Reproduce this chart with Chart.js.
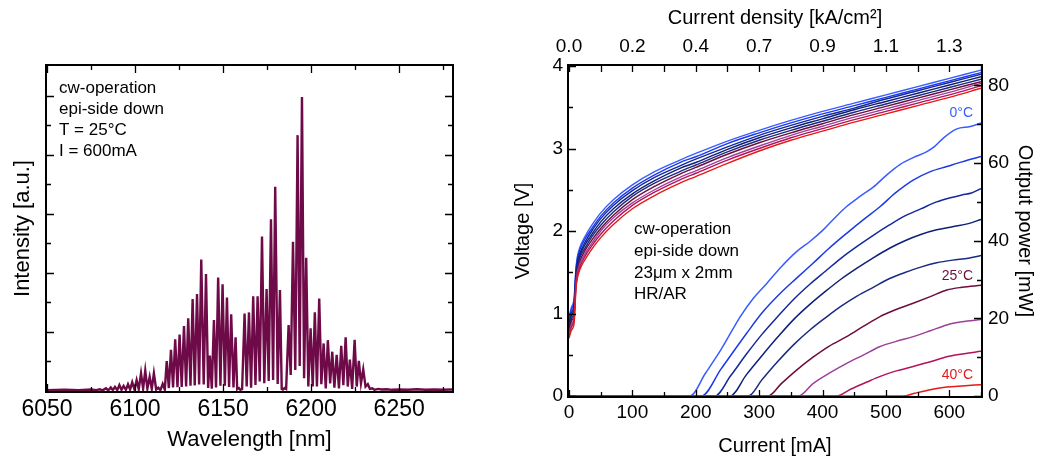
<!DOCTYPE html>
<html><head><meta charset="utf-8">
<script src="https://cdn.jsdelivr.net/npm/chart.js@4.4.1/dist/chart.umd.min.js"></script>
<style>
html,body{margin:0;padding:0;background:#fff;width:1037px;height:459px;overflow:hidden}
#c1{position:absolute;left:0;top:0}
#c2{position:absolute;left:490px;top:0}
</style></head><body>
<canvas id="c1" width="480" height="459"></canvas>
<canvas id="c2" width="547" height="459"></canvas>
<script>
// ================= DATA =================
// Left: emission spectrum (wavelength nm / intensity a.u.), peaks and valleys
const specWavelength = [6050,6060,6068,6075,6078,6080,6081.5,
 6083.5,6084.8,6086.2,6087.4,6088.6,6089.9,6091.1,6092.3,6093.5,6094.8,6096.0,6097.2,6098.4,6099.7,
 6100.9,6102.1,6103.4,6104.6,6105.8,6107.0,6108.3,6109.5,6110.7,6112.0,6113.2,6114.4,6115.7,6116.9,
 6118.0,6119.2,6120.4,6121.6,6122.8,6124.1,6125.3,6126.5,6127.8,6129.0,6130.2,6131.5,6132.7,6133.9,
 6135.2,6136.4,6137.6,6139.0,6140.3,6141.5,6142.5,6143.6,6144.8,6146.0,6147.2,6148.5,6149.7,6151.0,
 6152.2,6153.4,6154.6,6155.9,6157.1,6158.0,6159.0,6159.8,6160.8,
 6162.2,6163.4,6164.7,6165.9,6167.1,6168.4,6169.6,6170.8,6172.1,6173.4,6174.7,6175.9,6177.2,6178.4,
 6179.6,6181.0,6182.3,6183.3,6184.0,6185.0,6185.8,
 6187.2,6188.4,6189.7,6191.0,6192.3,6193.5,6194.8,6196.0,6197.2,6198.4,6199.7,6200.9,6202.1,6203.3,
 6204.6,6205.8,6207.1,6208.3,6209.5,6210.8,6212.0,6213.2,6214.5,6215.8,6217.1,6218.3,6219.6,6220.8,
 6222.0,6223.3,6224.7,6225.9,6227.1,6228.3,6229.6,6230.9,6232.2,6233.4,6234.7,
 6236,6238,6240,6243,6246,6250,6255,6260,6265,6270,6275,6280];
const specIntensity = [0.03,0.04,0.03,0.05,0.03,0.06,0.02,
 0.09,0.02,0.12,0.03,0.14,0.03,0.20,0.04,0.17,0.04,0.23,0.05,0.30,0.05,
 0.37,0.06,0.60,0.08,0.69,0.08,0.48,0.07,0.60,0.05,0.11,0.03,0.24,0.05,
 1.01,0.10,1.39,0.12,1.75,0.13,1.91,0.14,2.20,0.15,2.46,0.18,3.11,0.19,
 3.28,0.22,4.45,0.22,3.96,0.10,1.20,0.08,2.40,0.12,3.84,0.18,3.61,0.18,
 3.16,0.14,2.60,0.12,1.82,0.06,0.10,0.04,0.06,
 2.62,0.15,2.66,0.11,3.21,0.20,3.21,0.32,5.23,0.26,3.45,0.34,5.81,0.37,
 6.91,0.24,3.42,0.07,0.05,0.10,0.07,
 2.23,0.54,5.05,0.71,8.66,0.85,9.95,0.43,4.51,0.15,2.12,0.15,2.66,0.15,
 3.13,0.23,1.61,0.09,1.72,0.26,1.33,0.11,1.22,0.09,1.53,0.20,1.82,0.15,
 1.06,0.07,1.73,0.15,1.02,0.26,0.73,0.15,0.23,0.07,0.09,
 0.04,0.07,0.05,0.06,0.04,0.05,0.04,0.06,0.04,0.05,0.04,0.05];
const specXTicks = [6050,6100,6150,6200,6250];
const specXMinor = [6075,6125,6175,6225,6275];
const specYMajor = [2,4,6,8,10];
const specYMinor = [1,3,5,7,9];
const specNotes = ['cw-operation','epi-side down','T = 25°C','I = 600mA'];

// Right: voltage (V) and output power (mW) versus current (mA) for several temperatures
const temps = ['0°C','5°C','10°C','15°C','20°C','25°C','30°C','35°C','40°C'];
const tempColors = ['#3a5cff','#1a3ae6','#13289c','#0f1f78','#1a2a80','#6c0d3c','#9c3f98','#b2145a','#e41a1a'];
const vCurrent = [0,4,8,11,13,17,25,36,50,70,100,135,175,200,250,300,350,400,450,500,550,600,650];
const v0  = [0.96,1.08,1.18,1.55,1.68,1.80,1.93,2.07,2.22,2.38,2.56,2.72,2.86,2.94,3.09,3.22,3.34,3.45,3.55,3.65,3.75,3.85,3.95];
const v5  = [0.93,1.05,1.14,1.52,1.65,1.77,1.90,2.03,2.18,2.34,2.52,2.68,2.83,2.90,3.06,3.19,3.31,3.42,3.52,3.62,3.72,3.82,3.92];
const v10 = [0.90,1.01,1.11,1.49,1.62,1.73,1.86,2.00,2.15,2.31,2.49,2.65,2.79,2.87,3.02,3.16,3.28,3.39,3.49,3.60,3.70,3.80,3.90];
const v15 = [0.86,0.98,1.07,1.46,1.58,1.70,1.83,1.96,2.11,2.27,2.45,2.61,2.76,2.83,2.99,3.13,3.25,3.36,3.47,3.57,3.67,3.77,3.87];
const v20 = [0.83,0.94,1.03,1.43,1.55,1.67,1.79,1.93,2.07,2.23,2.42,2.58,2.72,2.80,2.96,3.10,3.22,3.33,3.44,3.54,3.64,3.74,3.84];
const v25 = [0.80,0.91,0.99,1.39,1.52,1.63,1.76,1.89,2.03,2.19,2.38,2.54,2.69,2.77,2.93,3.07,3.19,3.30,3.41,3.51,3.61,3.71,3.81];
const v30 = [0.77,0.87,0.96,1.36,1.49,1.60,1.72,1.85,2.00,2.16,2.34,2.50,2.65,2.73,2.89,3.03,3.16,3.27,3.38,3.48,3.58,3.68,3.79];
const v35 = [0.73,0.84,0.92,1.33,1.45,1.56,1.69,1.82,1.96,2.12,2.31,2.47,2.62,2.70,2.86,3.00,3.13,3.24,3.35,3.45,3.55,3.65,3.76];
const v40 = [0.70,0.80,0.88,1.30,1.42,1.53,1.65,1.78,1.92,2.08,2.27,2.43,2.58,2.66,2.82,2.97,3.10,3.21,3.32,3.42,3.52,3.62,3.73];
const li0  = [[0,0],[191,0],[215,5.8],[240,12],[270,20.4],[290,25],[312,29.0],[335,33.3],[359,37.2],[380,39.8],[401,42.8],[420,46.0],[438,48.8],[459,51.4],[480,53.8],[501,56.9],[522,59.6],[543,61.4],[564,62.9],[577,64.3],[591,66.5],[612,68.8],[633,69.4],[650,70.3]];
const li5  = [[0,0],[209,0],[240,7],[280,16.1],[305,21.5],[333,26.4],[360,30.5],[385,34.2],[410,38],[438,41.9],[465,45.5],[491,48.8],[515,52.3],[543,55.6],[570,57.8],[596,59.1],[620,60.3],[650,61.7]];
const li10 = [[0,0],[230,0],[255,5.2],[280,10.8],[305,16],[330,20.6],[355,25],[380,28.8],[405,32.2],[430,35.6],[455,38.6],[480,41.4],[505,44],[530,46.4],[555,48.2],[580,50],[600,51],[620,51.8],[635,52.3],[650,53.4]];
const li15 = [[0,0],[254,0],[280,5.5],[305,10.5],[330,15.3],[355,19.8],[380,23.6],[405,27],[430,30.2],[455,33],[480,35.6],[505,38],[530,40],[555,41.6],[580,42.8],[605,43.6],[630,44.4],[650,45.5]];
const li20 = [[0,0],[283,0],[305,4.3],[330,9],[355,13.3],[380,17],[405,20.2],[430,23.2],[455,25.8],[480,28],[505,30.2],[530,31.8],[555,33.2],[580,34.3],[605,35],[630,35.5],[650,36.2]];
const li25 = [[0,0],[314,0],[335,3.2],[360,6.8],[385,10],[410,12.8],[438,15.3],[465,18],[490,20.4],[515,22.2],[543,23.9],[570,25.6],[596,27.3],[620,28],[650,28.5]];
const li30 = [[0,0],[362,0],[385,3.2],[410,5.8],[438,8.4],[465,10.6],[490,12.7],[515,14],[543,15.3],[570,16.8],[596,18.3],[620,19.1],[650,19.7]];
const li35 = [[0,0],[422,0],[445,1.8],[470,3.6],[490,5.0],[515,6.4],[543,7.6],[570,8.8],[596,10.1],[620,10.8],[650,11.5]];
const li40 = [[0,0],[527,0],[545,0.7],[570,1.6],[596,2.3],[620,2.6],[650,2.9]];
const curXTicks = [0,100,200,300,400,500,600];
const curXMinor = [50,150,250,350,450,550,650];
const densityLabels = ['0.0','0.2','0.4','0.7','0.9','1.1','1.3'];
const voltTicks = [0,1,2,3,4];
const voltMinor = [0.5,1.5,2.5,3.5];
const powerTicks = [0,20,40,60,80];
const powerMinor = [10,30,50,70];
const liNotes = ['cw-operation','epi-side down','23μm x 2mm','HR/AR'];
const labelTemps = [0, 5, 8]; // indices of temperatures that are labelled

// ================= DRAWING =================
const FONT = "'Liberation Sans', Arial, Helvetica, sans-serif";
Chart.defaults.font.family = FONT;
Chart.defaults.color = '#000';

const framePlugin = {
  id: 'frame',
  afterDatasetsDraw(chart, args, o) {
    const {ctx, chartArea: a} = chart;
    ctx.save();
    ctx.strokeStyle = '#000';
    ctx.lineWidth = 2;
    ctx.strokeRect(a.left - 1, a.top - 1, a.right - a.left + 2, a.bottom - a.top + 2);
    ctx.lineWidth = 1.3;
    ctx.beginPath();
    for (const t of o.ticks) {
      const s = chart.scales[t.scale];
      for (const v of t.values) {
        const p = Math.round(s.getPixelForValue(v)) + 0.5;
        for (const side of t.sides) {
          if (side === 'bottom') { ctx.moveTo(p, a.bottom); ctx.lineTo(p, a.bottom - t.len); }
          if (side === 'top') { ctx.moveTo(p, a.top); ctx.lineTo(p, a.top + t.len); }
          if (side === 'left') { ctx.moveTo(a.left, p); ctx.lineTo(a.left + t.len, p); }
          if (side === 'right') { ctx.moveTo(a.right, p); ctx.lineTo(a.right - t.len, p); }
        }
      }
    }
    ctx.stroke();
    for (const n of (o.notes || [])) {
      ctx.font = n.font;
      ctx.fillStyle = n.color || '#000';
      ctx.textAlign = n.align || 'left';
      ctx.textBaseline = 'alphabetic';
      n.lines.forEach((l, i) => ctx.fillText(l, n.x, n.y + i * (n.dy || 0)));
    }
    ctx.restore();
  }
};

// ---------- Left chart ----------
new Chart(document.getElementById('c1'), {
  type: 'line',
  data: { datasets: [{
    data: specWavelength.map((w, i) => ({x: w, y: specIntensity[i]})),
    borderColor: '#6e0a48', borderWidth: 2.4, pointRadius: 0, tension: 0, fill: false
  }]},
  options: {
    responsive: false, animation: false, events: [],
    layout: { padding: { left: 0, right: 28, top: 66, bottom: 0 } },
    plugins: {
      legend: { display: false }, tooltip: { enabled: false },
      frame: {
        ticks: [
          { scale: 'x', values: specXTicks, sides: ['bottom', 'top'], len: 7 },
          { scale: 'x', values: specXMinor, sides: ['bottom', 'top'], len: 4 },
          { scale: 'y', values: specYMajor, sides: ['left', 'right'], len: 7 },
          { scale: 'y', values: specYMinor, sides: ['left', 'right'], len: 4 }
        ],
        notes: [{ lines: specNotes, x: 59, y: 93, dy: 21, font: '17px ' + FONT }]
      }
    },
    scales: {
      x: {
        type: 'linear', min: 6050, max: 6280,
        afterBuildTicks: s => { s.ticks = specXTicks.map(v => ({ value: v })); },
        afterFit: s => { s.height = 68; },
        grid: { display: false, drawTicks: false }, border: { display: false },
        ticks: { font: { size: 23 }, padding: 5, autoSkip: false, maxRotation: 0, callback: v => String(v) },
        title: { display: true, text: 'Wavelength [nm]', font: { size: 22 }, padding: { top: 0, bottom: 6 } }
      },
      y: {
        type: 'linear', min: 0, max: 11,
        afterFit: s => { s.width = 47; },
        grid: { display: false, drawTicks: false }, border: { display: false },
        ticks: { display: false },
        title: { display: true, text: 'Intensity [a.u.]', font: { size: 22 }, padding: { top: 10, bottom: 0 } }
      }
    }
  },
  plugins: [framePlugin]
});

// ---------- Right chart ----------
const vSeries = [v0, v5, v10, v15, v20, v25, v30, v35, v40];
const liSeries = [li0, li5, li10, li15, li20, li25, li30, li35, li40];
const datasets = [];
temps.forEach((t, k) => {
  datasets.push({
    label: 'V ' + t, yAxisID: 'y', order: 20 - k,
    data: vCurrent.map((c, i) => ({ x: c, y: vSeries[k][i] })),
    borderColor: tempColors[k], borderWidth: 1.4, pointRadius: 0,
    cubicInterpolationMode: 'monotone', fill: false
  });
  datasets.push({
    label: 'P ' + t, yAxisID: 'y1', order: 10 - k,
    data: liSeries[k].map(p => ({ x: p[0], y: p[1] })),
    borderColor: tempColors[k], borderWidth: 1.5, pointRadius: 0,
    cubicInterpolationMode: 'monotone', fill: false
  });
});

new Chart(document.getElementById('c2'), {
  type: 'line',
  data: { datasets },
  options: {
    responsive: false, animation: false, events: [],
    layout: { padding: 0 },
    plugins: {
      legend: { display: false }, tooltip: { enabled: false },
      frame: {
        ticks: [
          { scale: 'x', values: curXTicks, sides: ['bottom'], len: 6 },
          { scale: 'x', values: curXMinor, sides: ['bottom'], len: 4 },
          { scale: 'x2', values: curXTicks.concat(curXMinor), sides: ['top'], len: 6 },
          { scale: 'y', values: voltTicks, sides: ['left'], len: 7 },
          { scale: 'y', values: voltMinor, sides: ['left'], len: 4 },
          { scale: 'y1', values: powerTicks, sides: ['right'], len: 7 },
          { scale: 'y1', values: powerMinor, sides: ['right'], len: 4 }
        ],
        notes: [
          { lines: liNotes, x: 144, y: 234, dy: 21.8, font: '17px ' + FONT },
          { lines: [temps[labelTemps[0]]], x: 483, y: 117, font: '14px ' + FONT, color: tempColors[labelTemps[0]], align: 'right' },
          { lines: [temps[labelTemps[1]]], x: 483, y: 280, font: '14px ' + FONT, color: tempColors[labelTemps[1]], align: 'right' },
          { lines: [temps[labelTemps[2]]], x: 483, y: 379, font: '14px ' + FONT, color: tempColors[labelTemps[2]], align: 'right' }
        ]
      }
    },
    scales: {
      x: {
        type: 'linear', position: 'bottom', min: 0, max: 650,
        afterBuildTicks: s => { s.ticks = curXTicks.map(v => ({ value: v })); },
        afterFit: s => { s.height = 63; },
        grid: { display: false, drawTicks: false }, border: { display: false },
        ticks: { font: { size: 19 }, padding: 5, autoSkip: false, maxRotation: 0, callback: v => String(v) },
        title: { display: true, text: 'Current [mA]', font: { size: 20 }, padding: { top: 0, bottom: 1 } }
      },
      x2: {
        type: 'linear', position: 'top', min: 0, max: 650,
        afterBuildTicks: s => { s.ticks = curXTicks.map(v => ({ value: v })); },
        afterFit: s => { s.height = 66; },
        grid: { display: false, drawTicks: false }, border: { display: false },
        ticks: { font: { size: 19 }, padding: 8, autoSkip: false, maxRotation: 0,
                 callback: v => densityLabels[curXTicks.indexOf(v)] },
        title: { display: true, text: 'Current density [kA/cm²]', font: { size: 20 }, padding: { top: 6, bottom: 0 } }
      },
      y: {
        type: 'linear', position: 'left', min: 0, max: 4,
        afterBuildTicks: s => { s.ticks = voltTicks.map(v => ({ value: v })); },
        afterFit: s => { s.width = 79; },
        grid: { display: false, drawTicks: false }, border: { display: false },
        ticks: { font: { size: 19 }, padding: 6, callback: v => String(v) },
        title: { display: true, text: 'Voltage [V]', font: { size: 20 }, padding: { top: 21, bottom: 0 } }
      },
      y1: {
        type: 'linear', position: 'right', min: 0, max: 85,
        afterBuildTicks: s => { s.ticks = powerTicks.map(v => ({ value: v })); },
        afterFit: s => { s.width = 56; },
        grid: { display: false, drawTicks: false }, border: { display: false },
        ticks: { font: { size: 19 }, padding: 7, callback: v => String(v) },
        title: { display: true, text: 'Output power [mW]', font: { size: 20 }, padding: { top: 0, bottom: 0 } }
      }
    }
  },
  plugins: [framePlugin]
});
</script>
</body></html>
